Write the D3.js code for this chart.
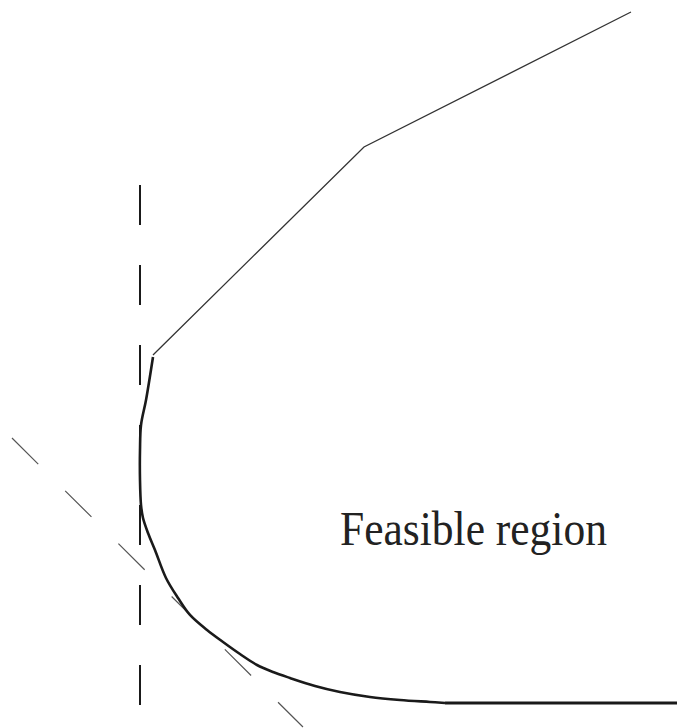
<!DOCTYPE html>
<html>
<head>
<meta charset="utf-8">
<script src="https://cdn.jsdelivr.net/npm/d3@7"></script>
<style>
  body { margin: 0; background: #fff; }
  svg { display: block; }
</style>
</head>
<body>
<div id="chart"></div>
<script>
// upper boundary (linear pieces)
const upperEdge = [[0.242, 6.48], [4.171, 10.354], [9.143, 12.868]];

// lower boundary (curved piece)
const lowerCurve = [
  [0.242, 6.443], [0.112, 5.642], [0.019, 5.177], [0, 4.711], [0, 4.153],
  [0.019, 3.687], [0.056, 3.445], [0.149, 3.166], [0.279, 2.849], [0.484, 2.328],
  [0.708, 1.955], [0.931, 1.639], [1.248, 1.359], [1.546, 1.136], [1.862, 0.912],
  [2.179, 0.708], [2.477, 0.577], [2.793, 0.466], [3.259, 0.317], [3.724, 0.205],
  [4.283, 0.112], [4.842, 0.056], [5.4, 0.019], [5.68, 0]
];

// flat bottom edge
const bottomEdge = [[5.68, 0], [10, 0]];

// the two dashed supporting lines
const verticalLine = [[0, 9.646], [0, -0.037]];
const tangentLine = [[-2.384, 4.935], [3.035, -0.447]];

const label = { text: "Feasible region", pos: [3.724, 2.942] };

var width = 677, height = 728;
var unit = 53.7;

var x = d3.scaleLinear().domain([0, 10]).range([140, 140 + 10 * unit]);
var y = d3.scaleLinear().domain([0, 10]).range([703, 703 - 10 * unit]);

var svg = d3.select("#chart")
  .append("svg")
  .attr("width", width)
  .attr("height", height);

var line = d3.line().x(d => x(d[0])).y(d => y(d[1]));

// dashed lines first
svg.append("path")
  .attr("d", line(verticalLine))
  .attr("fill", "none")
  .attr("stroke", "#1a1a1a")
  .attr("stroke-width", 2)
  .attr("stroke-dasharray", "40,40");

svg.append("path")
  .attr("d", line(tangentLine))
  .attr("fill", "none")
  .attr("stroke", "#555")
  .attr("stroke-width", 1.2)
  .attr("stroke-dasharray", "37,38");

svg.append("path")
  .attr("d", line(upperEdge))
  .attr("fill", "none")
  .attr("stroke", "#333")
  .attr("stroke-width", 1.3);

var smooth = d3.line().x(d => x(d[0])).y(d => y(d[1]))
  .curve(d3.curveCatmullRom.alpha(0.5));

svg.append("path")
  .attr("d", smooth(lowerCurve))
  .attr("fill", "none")
  .attr("stroke", "#1a1a1a")
  .attr("stroke-width", 2.6);

svg.append("path")
  .attr("d", line(bottomEdge))
  .attr("fill", "none")
  .attr("stroke", "#1a1a1a")
  .attr("stroke-width", 2.8);

svg.append("text")
  .attr("x", x(label.pos[0]))
  .attr("y", y(label.pos[1]))
  .attr("font-family", "'Liberation Serif', 'DejaVu Serif', serif")
  .attr("font-size", 48)
  .attr("fill", "#222")
  .attr("textLength", 267)
  .attr("lengthAdjust", "spacingAndGlyphs")
  .text(label.text);
</script>
</body>
</html>
